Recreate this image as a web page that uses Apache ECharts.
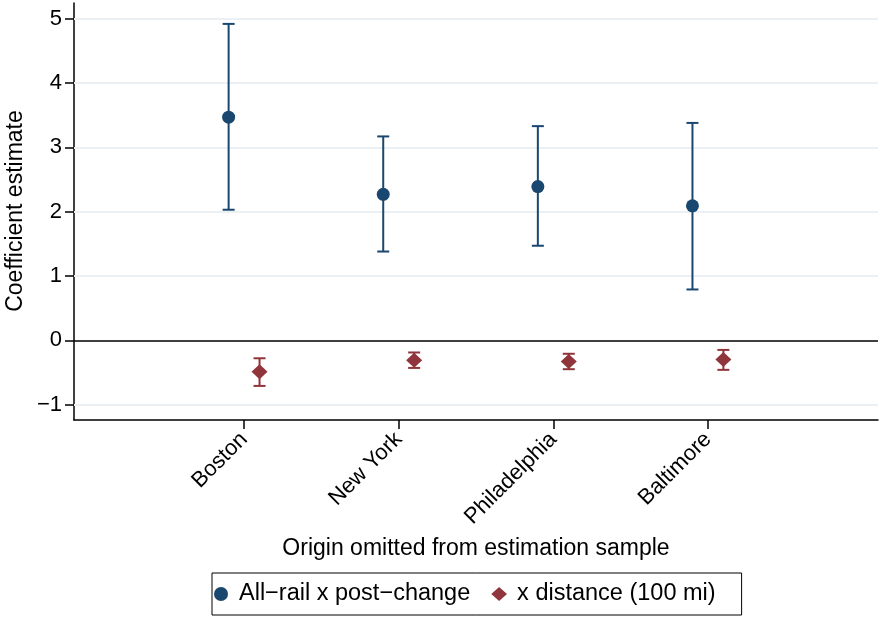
<!DOCTYPE html>
<html>
<head>
<meta charset="utf-8">
<script src="https://cdn.jsdelivr.net/npm/echarts@6/dist/echarts.min.js"></script>
<style>
  html, body { margin: 0; padding: 0; background: #fff; }
  #chart { width: 881px; height: 620px; }
</style>
</head>
<body>
<div id="chart"></div>
<script>
// origins omitted, one group per origin
const origins = ["Boston", "New York", "Philadelphia", "Baltimore"];
const groupPos = [1, 2, 3, 4];

// All-rail x post-change
const railEst = [3.47, 2.27, 2.39, 2.09];
const railLo = [2.03, 1.38, 1.47, 0.79];
const railHi = [4.92, 3.17, 3.33, 3.38];

// x distance (100 mi)
const distEst = [-0.49, -0.31, -0.33, -0.30];
const distLo = [-0.71, -0.43, -0.45, -0.46];
const distHi = [-0.28, -0.19, -0.21, -0.15];

const yTicks = [-1, 0, 1, 2, 3, 4, 5];

const railName = "All\u2212rail x post\u2212change";
const distName = "x distance (100 mi)";
const xTitle = "Origin omitted from estimation sample";
const yTitle = "Coefficient estimate";
const blue = "#1a476f";
const red = "#90353b";
const font = "Liberation Sans, Arial, Helvetica, sans-serif";

function errBars(color, capW) {
  return function (params, api) {
    let x = api.value(0);
    let top = api.coord([x, api.value(2)]);
    let bot = api.coord([x, api.value(1)]);
    let st = { stroke: color, lineWidth: 2 };
    return {
      type: "group",
      children: [
        { type: "line", shape: { x1: top[0], y1: top[1], x2: bot[0], y2: bot[1] }, style: st },
        { type: "line", shape: { x1: top[0] - capW / 2, y1: top[1], x2: top[0] + capW / 2, y2: top[1] }, style: st },
        { type: "line", shape: { x1: bot[0] - capW / 2, y1: bot[1], x2: bot[0] + capW / 2, y2: bot[1] }, style: st }
      ]
    };
  };
}

let myChart = echarts.init(document.getElementById("chart"));
let option = {
  animation: false,
  textStyle: { fontFamily: font },
  grid: { left: 74, right: 3, top: 3, bottom: 200, containLabel: false, outerBoundsMode: "none" },
  graphic: [
    {
      type: "text",
      x: 16,
      y: 211,
      rotation: Math.PI / 2,
      style: { text: yTitle, x: 0, y: 0, align: "center", verticalAlign: "middle", fontSize: 23, fontFamily: font, fill: "#000" }
    },
    {
      type: "text",
      x: 476,
      y: 549,
      style: { text: xTitle, x: 0, y: 0, align: "center", verticalAlign: "middle", fontSize: 23, fontFamily: font, fill: "#000" }
    }
  ],
  xAxis: {
    type: "value",
    min: -0.1,
    max: 5.1,
    axisLine: { show: true, onZero: false, lineStyle: { color: "#000", width: 1.5 } },
    axisTick: { show: true, length: 9, customValues: groupPos, lineStyle: { color: "#000", width: 1.5 } },
    axisLabel: {
      customValues: groupPos,
      rotate: 45,
      margin: 16,
      fontSize: 22,
      color: "#000",
      fontFamily: font,
      formatter: function (v) { return origins[groupPos.indexOf(v)] || ""; }
    },
    splitLine: { show: false }
  },
  yAxis: {
    type: "value",
    min: -1.24,
    max: 5.245,
    axisLine: { show: true, onZero: false, lineStyle: { color: "#000", width: 1.5 } },
    axisTick: { show: true, length: 9, customValues: yTicks, lineStyle: { color: "#000", width: 1.5 } },
    axisLabel: {
      customValues: yTicks,
      margin: 12,
      fontSize: 22,
      color: "#000",
      fontFamily: font,
      formatter: function (v) { return v < 0 ? "\u2212" + Math.abs(v) : String(v); }
    },
    splitLine: { show: false }
  },
  legend: {
    data: [
      { name: railName, icon: "circle" },
      { name: distName, icon: "path://M0,8L9,0L18,8L9,16Z" }
    ],
    left: 212,
    bottom: 5,
    orient: "horizontal",
    borderColor: "#000",
    borderWidth: 1,
    padding: [9, 26, 9, 2],
    itemGap: 21,
    itemWidth: 26,
    itemHeight: 14,
    textStyle: { fontSize: 23.5, color: "#000", fontFamily: font }
  },
  series: [
    {
      type: "line",
      data: [],
      silent: true,
      z: 1,
      markLine: {
        silent: true,
        z: 1,
        symbol: "none",
        label: { show: false },
        animation: false,
        data: yTicks.filter(function (t) { return t !== 0; }).map(function (t) {
          return { yAxis: t, lineStyle: { color: "#eaf0f3", width: 2, type: "solid" } };
        }).concat([{ yAxis: 0, lineStyle: { color: "#000", width: 1.5, type: "solid" } }])
      }
    },
    {
      type: "custom",
      renderItem: errBars(blue, 12),
      data: groupPos.map(function (p, i) { return [p - 0.1, railLo[i], railHi[i]]; }),
      encode: { x: 0, y: [1, 2] },
      z: 6,
      silent: true
    },
    {
      type: "custom",
      renderItem: errBars(red, 12),
      data: groupPos.map(function (p, i) { return [p + 0.1, distLo[i], distHi[i]]; }),
      encode: { x: 0, y: [1, 2] },
      z: 6,
      silent: true
    },
    {
      name: railName,
      type: "scatter",
      symbol: "circle",
      symbolSize: 13,
      itemStyle: { color: blue, opacity: 1 },
      data: groupPos.map(function (p, i) { return [p - 0.1, railEst[i]]; }),
      z: 7
    },
    {
      name: distName,
      type: "scatter",
      symbol: "diamond",
      symbolSize: [16, 15],
      itemStyle: { color: red, opacity: 1 },
      data: groupPos.map(function (p, i) { return [p + 0.1, distEst[i]]; }),
      z: 7
    }
  ]
};
myChart.setOption(option);
window.onresize = function () {
  myChart.resize();
};
</script>
</body>
</html>
